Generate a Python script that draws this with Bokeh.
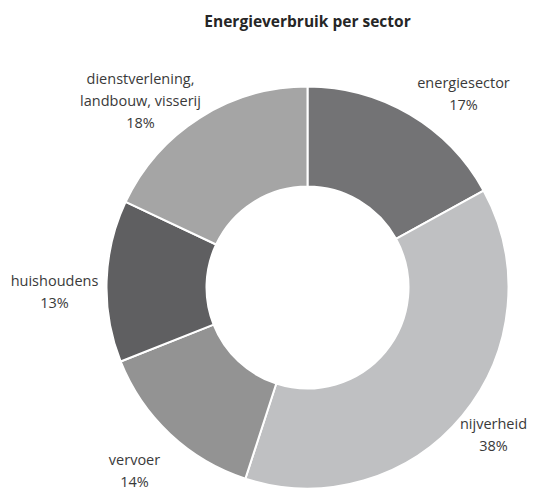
import math
from bokeh.plotting import figure
from bokeh.models import Range1d, ColumnDataSource
from bokeh.core.properties import value
from bokeh.embed import file_html
from bokeh.resources import INLINE

title_text = "Energieverbruik per sector"
sectors = ["energiesector", "nijverheid", "vervoer", "huishoudens", "dienstverlening,\nlandbouw, visserij"]
shares = [17, 38, 14, 13, 18]
colors = ["#737375", "#bfc0c2", "#939393", "#5f5f61", "#a5a5a5"]

W, H = 549, 491
# page px -> data coordinates (1 unit = 1 px), y up
def px(x):
    return x
def py(y):
    return H - y

cx, cy = px(307), py(287)
R_OUT, R_IN = 201, 101

starts, ends = [], []
cum = 0
for s in shares:
    starts.append(math.pi / 2 - 2 * math.pi * cum / 100)
    cum += s
    ends.append(math.pi / 2 - 2 * math.pi * cum / 100)

p = figure(width=W, height=H, output_backend="svg", toolbar_location=None,
           x_range=Range1d(0, W), y_range=Range1d(0, H), min_border=0,
           x_axis_type=None, y_axis_type=None)
p.grid.visible = False
p.outline_line_color = None
p.background_fill_color = "white"
p.border_fill_color = "white"

src = ColumnDataSource(dict(start=starts, end=ends, color=colors))
p.annular_wedge(x=cx, y=cy, inner_radius=R_IN, outer_radius=R_OUT,
                start_angle="start", end_angle="end", direction="clock",
                fill_color="color", line_color="white", line_width=2, source=src)

# label anchor positions (page px, centre of label block)
label_pos = [(463, 93), (493, 434), (134, 470), (54, 291), (140, 100)]
lx, ly, lt = [], [], []
for name, share, (x, y) in zip(sectors, shares, label_pos):
    lines = name.split("\n") + [f"{share}%"]
    n = len(lines)
    for i, line in enumerate(lines):
        lx.append(px(x))
        ly.append(py(y + (i - (n - 1) / 2) * 22))
        lt.append(line)

p.text(x=lx, y=ly, text=lt, text_align="center", text_baseline="middle",
       text_font=value("Open Sans"), text_font_size="14.5px", text_color="#3a3a3a")

p.text(x=[px(307)], y=[py(20)], text=[title_text], text_align="center",
       text_baseline="middle", text_font=value("Open Sans"), text_font_size="15.5px",
       text_font_style="bold", text_color="#262626")

open("out.html", "w").write(file_html(p, INLINE))
